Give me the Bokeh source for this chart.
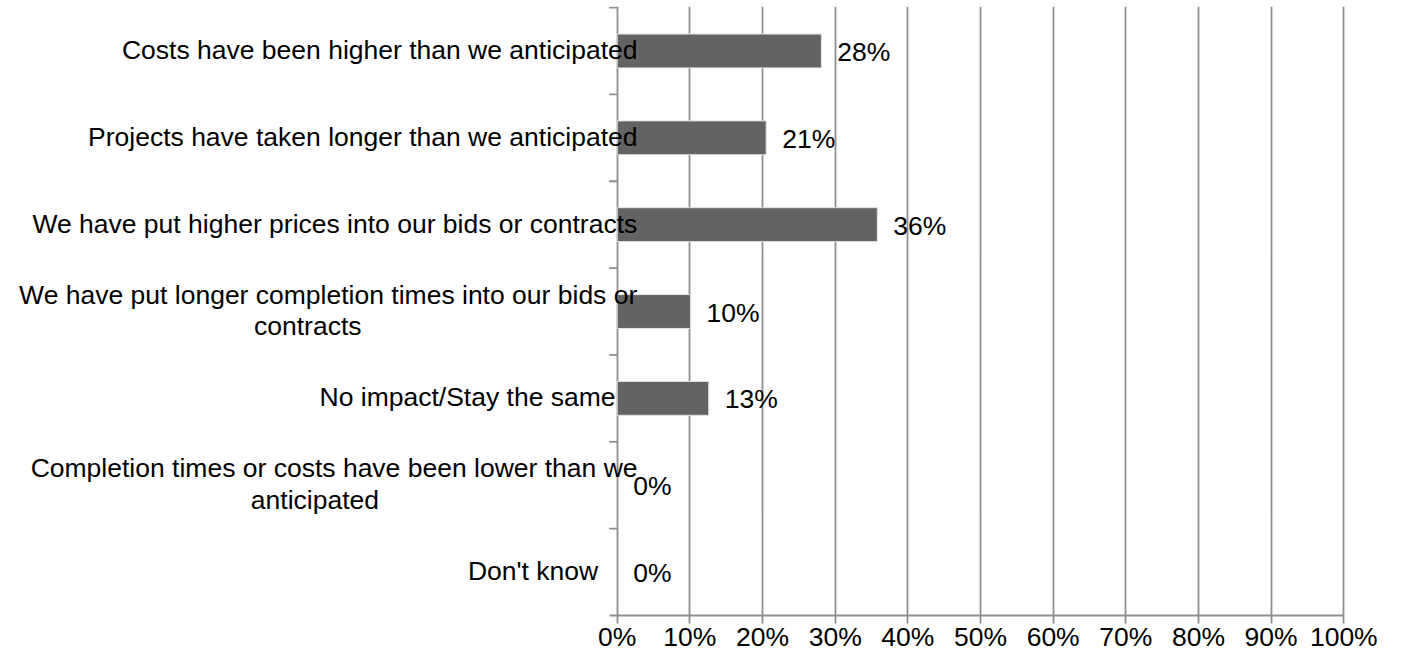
import math
from bokeh.plotting import figure
from bokeh.models import ColumnDataSource, Range1d, FixedTicker
from bokeh.core.properties import value
from bokeh.embed import file_html
from bokeh.resources import INLINE

# ---------------- data ----------------
categories = [
    "Costs have been higher than we anticipated",
    "Projects have taken longer than we anticipated",
    "We have put higher prices into our bids or contracts",
    "We have put longer completion times into our bids or\ncontracts",
    "No impact/Stay the same",
    "Completion times or costs have been lower than we\nanticipated",
    "Don't know",
]
values = [28.1, 20.5, 35.8, 10.1, 12.6, 0.0, 0.0]
x_ticks = [0, 10, 20, 30, 40, 50, 60, 70, 80, 90, 100]
x_tick_labels = ["0%", "10%", "20%", "30%", "40%", "50%", "60%", "70%", "80%", "90%", "100%"]

# ---------------- style / layout ----------------
FONT = "Liberation Sans"
FS = 26.5
GRID = "#8e8e8e"
BAR = "#636363"
W, H = 1386, 654
PX0 = 616.7        # canvas x of the 0% line
SCALE = 7.266      # px per percent
FRAME_W = 1346
TOP = 6
BOTTOM = 39

# Arial / Liberation Sans advance widths (per 1000 em)
WIDTHS = {' ': 278, "'": 191, '/': 278, 'C': 722, 'P': 667, 'W': 944, 'N': 722,
          'D': 722, 'S': 667, 'a': 556, 'b': 556, 'c': 500, 'd': 556, 'e': 556,
          'f': 278, 'g': 556, 'h': 556, 'i': 222, 'j': 222, 'k': 500, 'l': 222,
          'm': 833, 'n': 556, 'o': 556, 'p': 556, 'q': 556, 'r': 333, 's': 500,
          't': 278, 'u': 556, 'v': 500, 'w': 722, 'x': 500, 'y': 500, 'z': 500}


def text_w(s):
    return sum(WIDTHS.get(ch, 556) for ch in s) * FS / 1000.0


n = len(categories)
ys = [n - i - 0.5 for i in range(n)]

x_start = -PX0 / SCALE
x_end = x_start + FRAME_W / SCALE

p = figure(width=W, height=H,
           x_range=Range1d(x_start, x_end), y_range=Range1d(0, n + 0.012),
           output_backend="svg", toolbar_location=None, y_axis_location=None,
           min_border_left=0, min_border_right=W - FRAME_W,
           min_border_top=TOP, min_border_bottom=BOTTOM)
p.outline_line_color = None
p.background_fill_color = "white"
p.border_fill_color = "white"

# x axis
ax = p.xaxis[0]
ax.ticker = FixedTicker(ticks=x_ticks)
ax.major_label_overrides = {t: lab for t, lab in zip(x_ticks, x_tick_labels)}
ax.bounds = (-8.0 / SCALE, x_ticks[-1])
ax.axis_line_color = GRID
ax.axis_line_width = 1.8
ax.major_tick_line_color = GRID
ax.major_tick_line_width = 1.8
ax.major_tick_out = 8
ax.major_tick_in = 0
ax.minor_tick_line_color = None
ax.major_label_standoff = -2
ax.major_label_text_font = FONT
ax.major_label_text_font_size = f"{FS}px"
ax.major_label_text_color = "black"

p.xgrid.grid_line_color = GRID
p.xgrid.grid_line_width = 1.8
p.ygrid.visible = False

# category boundary ticks on the vertical axis
p.ray(x=[0] * n, y=list(range(1, n + 1)), length=8, length_units="screen",
      angle=math.pi, line_color=GRID, line_width=1.8)

# bars (zero-length bars get no outline so the axis line stays unbroken)
bar_src = ColumnDataSource(dict(y=ys, right=values,
                                la=[1.0 if v > 0 else 0.0 for v in values]))
p.hbar(y="y", left=0, right="right", height=0.39, source=bar_src,
       fill_color=BAR, line_color="#e2e2e2", line_width=1, line_alpha="la")

# value labels
val_src = ColumnDataSource(dict(x=values, y=ys, text=[f"{int(v + 0.5)}%" for v in values]))
p.text(x="x", y="y", text="text", source=val_src, x_offset=16, y_offset=1,
       text_align="left", text_baseline="middle",
       text_font=value(FONT), text_font_size=f"{FS}px", text_color="black")

# category labels (placed the way the original chart placed them)
line_h = 1.2 * FS
cx, cy, ct, cxo, cyo = [], [], [], [], []
for lab, yc in zip(categories, ys):
    lines = lab.split("\n")
    w1 = text_w(lines[0])
    right1 = min(584 + 0.105 * w1, 637)
    center1 = right1 - w1 / 2
    nl = len(lines)
    for k, ln in enumerate(lines):
        ck = center1 - 0.04 * (w1 - text_w(ln))
        cx.append(0)
        cy.append(yc)
        ct.append(ln)
        cxo.append(ck - PX0)
        cyo.append((k - (nl - 1) / 2) * line_h - 1)
cat_src = ColumnDataSource(dict(x=cx, y=cy, text=ct, xo=cxo, yo=cyo))
p.text(x="x", y="y", text="text", source=cat_src, x_offset="xo", y_offset="yo",
       text_align="center", text_baseline="middle",
       text_font=value(FONT), text_font_size=f"{FS}px", text_color="black")

open("out.html", "w").write(file_html(p, INLINE))
